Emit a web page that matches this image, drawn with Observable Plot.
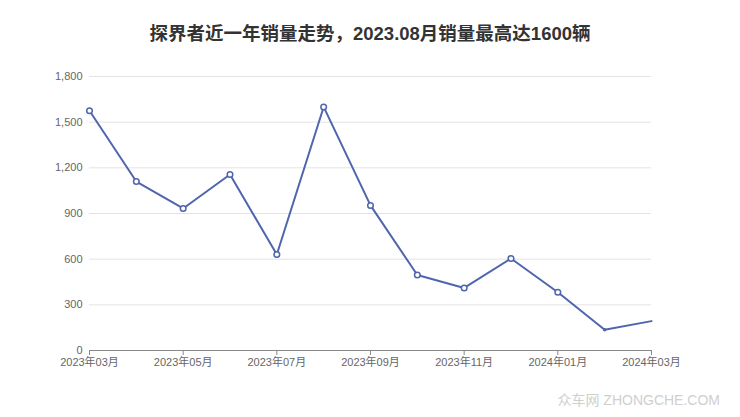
<!DOCTYPE html>
<html>
<head>
<meta charset="utf-8">
<script src="https://cdn.jsdelivr.net/npm/d3@7"></script>
<script src="https://cdn.jsdelivr.net/npm/@observablehq/plot@0.6"></script>
<style>
  html, body { margin: 0; padding: 0; background: #fff; }
  #wrap { position: relative; width: 740px; height: 417px; font-family: "Liberation Sans", "Noto Sans CJK SC", sans-serif; }
  #title { position: absolute; top: 19px; left: 0; width: 740px; text-align: center; font-size: 18.5px; font-weight: bold; color: #333; white-space: nowrap; }
  #wm { position: absolute; right: 20px; top: 389px; font-size: 14px; color: #cfcfcf; white-space: nowrap; }
</style>
</head>
<body>
<div id="wrap">
  <div id="chart"></div>
  <div id="title">探界者近一年销量走势，2023.08月销量最高达1600辆</div>
  <div id="wm">众车网 ZHONGCHE.COM</div>
</div>
<script>
const months = ["2023年03月","2023年04月","2023年05月","2023年06月","2023年07月","2023年08月","2023年09月","2023年10月","2023年11月","2023年12月","2024年01月","2024年02月","2024年03月"];
const sales = [1575, 1110, 933, 1156, 631, 1600, 953, 496, 411, 604, 383, 136, 193];
const yTicks = [0, 300, 600, 900, 1200, 1500, 1800];

const data = months.map((m, i) => ({i, month: m, value: sales[i]}));
const xTicks = months.map((m, i) => i).filter(i => i % 2 === 0);
const color = "#4f65ad";

const chart = Plot.plot({
  width: 740,
  height: 417,
  marginTop: 76,
  marginBottom: 67,
  marginLeft: 89,
  marginRight: 89,
  style: {fontFamily: "'Liberation Sans', 'Noto Sans CJK SC', sans-serif", fontSize: "11px", background: "#fff"},
  x: {domain: [0, months.length - 1]},
  y: {domain: [0, 1800]},
  marks: [
    Plot.gridY(yTicks.filter(d => d > 0), {stroke: "#e3e3e3", strokeOpacity: 1}),
    Plot.axisY(yTicks, {tickSize: 0, tickPadding: 7, fill: "#666", tickFormat: d3.format(","), label: null}),
    Plot.ruleY([0], {stroke: "#888"}),
    Plot.axisX(xTicks, {tickSize: 5, tickPadding: 3, stroke: "#888", fill: "#666", tickFormat: i => months[i], label: null}),
    Plot.line(data, {x: "i", y: "value", stroke: color, strokeWidth: 2}),
    Plot.dot(data.filter(d => d.i <= 10), {x: "i", y: "value", r: 2.8, stroke: color, strokeWidth: 1.5, fill: "#fff"}),
    Plot.dot(data.filter(d => d.i === 11), {x: "i", y: "value", r: 1.8, fill: color})
  ]
});
document.getElementById("chart").appendChild(chart);
</script>
</body>
</html>
